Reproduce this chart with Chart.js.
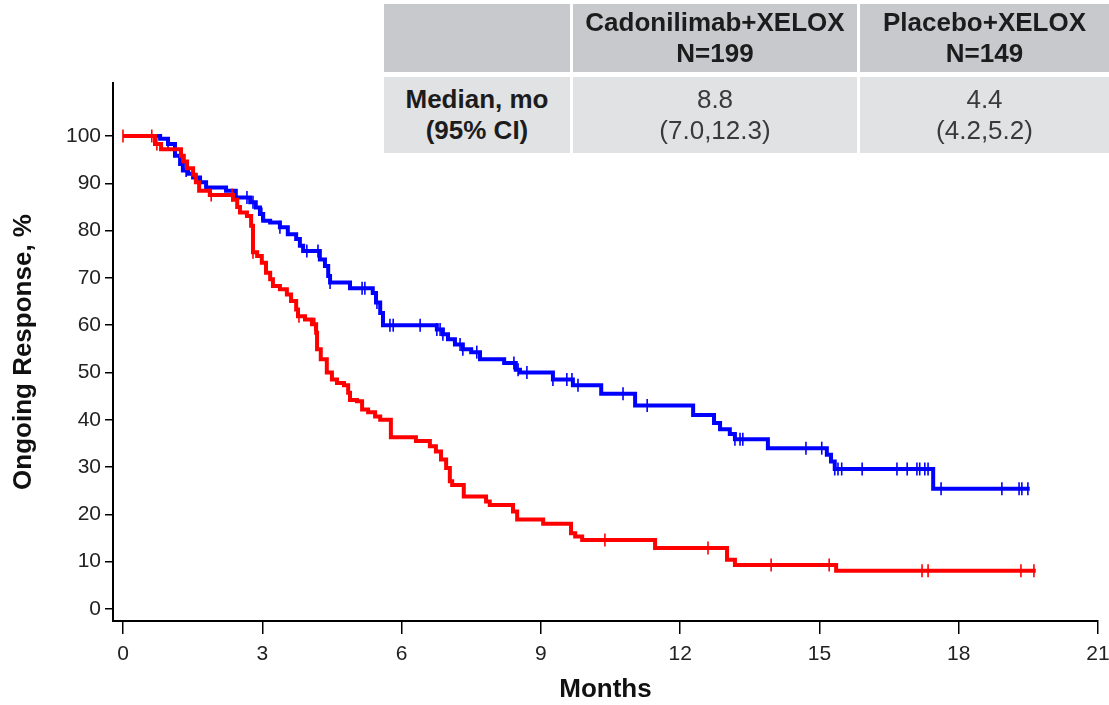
<!DOCTYPE html>
<html>
<head>
<meta charset="utf-8">
<script src="https://cdn.jsdelivr.net/npm/chart.js@4"></script>
<style>
  html, body { margin: 0; padding: 0; background: #fff; }
  #wrap { position: relative; width: 1109px; height: 705px; overflow: hidden; font-family: "Liberation Sans", Arial, sans-serif; }
  #wrap canvas { position: absolute; left: 0; top: 0; }
  .cell { position: absolute; display: flex; flex-direction: column; align-items: center; justify-content: center; font-size: 26px; line-height: 31px; text-align: center; }
  .hd { background: #c7c9cd; color: #1c1c1c; font-weight: bold; }
  .bd { background: #e1e2e4; color: #3a3a3a; }
  .bd.lbl { font-weight: bold; color: #1c1c1c; }
</style>
</head>
<body>
<div id="wrap">
  <canvas id="km" width="1109" height="705"></canvas>
  <div id="tbl"></div>
</div>
<script>
// axis ticks
const xTicks = [0, 3, 6, 9, 12, 15, 18, 21];
const yTicks = [0, 10, 20, 30, 40, 50, 60, 70, 80, 90, 100];

// Cadonilimab+XELOX: step times (months) and ongoing response (%) after each step
const cadoTimes = [0, 0.80, 0.97, 1.12, 1.23, 1.29, 1.40, 1.51, 1.66, 1.79, 2.22, 2.43, 2.74, 2.86, 2.95, 3.02, 3.17, 3.38, 3.55, 3.73, 3.81, 3.88, 4.24, 4.35, 4.42, 4.46, 4.89, 5.38, 5.45, 5.54, 5.60, 6.76, 6.89, 7.00, 7.15, 7.32, 7.50, 7.69, 8.21, 8.46, 8.55, 9.26, 9.69, 10.30, 11.03, 12.28, 12.73, 12.86, 13.07, 13.18, 13.89, 15.16, 15.25, 15.33, 17.45, 19.53];
const cadoSurv  = [100, 99.4, 98.3, 95.8, 94.1, 92.7, 92.0, 91.2, 90.2, 89.1, 88.4, 87.0, 86.0, 84.9, 83.5, 82.1, 81.7, 80.7, 79.2, 78.2, 76.8, 75.7, 73.9, 72.5, 70.4, 69.0, 67.8, 66.8, 64.8, 62.6, 60.0, 59.1, 58.1, 57.0, 55.9, 54.9, 54.3, 52.8, 52.0, 50.6, 50.0, 48.5, 47.3, 45.5, 43.0, 41.0, 39.3, 38.0, 37.0, 35.9, 34.0, 32.6, 31.2, 29.6, 25.4, 25.4];
const cadoCensor = [0.97, 1.36, 2.67, 2.80, 2.99, 3.38, 3.96, 4.20, 4.46, 5.15, 5.21, 5.47, 5.75, 5.82, 6.40, 6.76, 6.83, 6.89, 7.26, 7.32, 7.62, 8.42, 8.51, 8.70, 9.26, 9.56, 9.67, 9.80, 10.77, 11.29, 13.18, 13.29, 13.35, 14.71, 15.05, 15.33, 15.40, 15.48, 15.92, 16.67, 16.89, 17.10, 17.16, 17.27, 17.34, 17.62, 18.93, 19.30, 19.36, 19.49];

// Placebo+XELOX
const placTimes = [0, 0.69, 0.82, 1.25, 1.31, 1.38, 1.51, 1.57, 1.64, 1.87, 2.37, 2.46, 2.52, 2.67, 2.76, 2.80, 2.89, 2.99, 3.08, 3.17, 3.23, 3.38, 3.53, 3.62, 3.73, 3.77, 3.92, 4.07, 4.16, 4.18, 4.26, 4.39, 4.50, 4.61, 4.76, 4.85, 4.89, 5.04, 5.15, 5.28, 5.43, 5.54, 5.77, 6.31, 6.61, 6.74, 6.85, 6.96, 7.04, 7.09, 7.34, 7.82, 7.90, 8.40, 8.49, 9.05, 9.65, 9.74, 9.89, 11.46, 13.01, 13.18, 15.36, 19.66];
const placSurv  = [100, 98.3, 97.2, 95.8, 94.6, 93.2, 91.8, 90.2, 88.4, 87.5, 86.5, 85.0, 83.8, 83.1, 81.0, 75.4, 74.6, 73.2, 71.1, 69.7, 68.3, 67.6, 66.5, 65.1, 63.3, 61.9, 61.2, 60.2, 58.4, 54.9, 52.8, 50.0, 48.5, 47.8, 47.3, 45.7, 44.2, 43.9, 42.2, 41.6, 40.7, 40.0, 36.3, 35.5, 34.4, 33.3, 31.6, 29.8, 27.0, 26.2, 23.8, 22.7, 22.0, 20.6, 18.9, 18.0, 16.0, 15.3, 14.6, 12.9, 10.4, 9.3, 8.1, 8.1];
const placCensor = [0, 0.62, 0.73, 1.27, 1.90, 2.35, 2.80, 3.79, 4.13, 10.38, 12.60, 13.96, 15.21, 17.21, 17.34, 19.34, 19.62];

// summary table
const armNames = ["Cadonilimab+XELOX", "Placebo+XELOX"];
const armN = [199, 149];
const armMedian = ["8.8", "4.4"];
const armCI = ["(7.0,12.3)", "(4.2,5.2)"];

const blue = "#0000ff";
const red = "#ff0000";

function stepValue(times, vals, t) {
  let v = vals[0];
  for (let i = 0; i < times.length; i++) {
    if (times[i] <= t) v = vals[i];
  }
  return v;
}

const curve = (times, vals) => times.map((t, i) => ({ x: t, y: vals[i] }));
const marks = (cens, times, vals) => cens.map(t => ({ x: t, y: stepValue(times, vals, t) }));

// horizontal run first, then the drop at the event time
const lineDs = (label, data, color, order) => ({
  label, data, order,
  borderColor: color, borderWidth: 4, stepped: "before",
  borderJoinStyle: "miter", pointRadius: 0, fill: false
});
const censorDs = (label, data, color, order) => ({
  label, data, order, type: "scatter",
  showLine: false, pointStyle: "line", rotation: 90,
  pointRadius: 6.5, borderColor: color, borderWidth: 1.6
});

// table cells
const tbl = document.getElementById("tbl");
const cols = [{ left: 384, width: 186 }, { left: 573, width: 284 }, { left: 860, width: 249 }];
function addCell(cls, col, top, height, lines) {
  const d = document.createElement("div");
  d.className = "cell " + cls;
  d.style.left = cols[col].left + "px";
  d.style.width = cols[col].width + "px";
  d.style.top = top + "px";
  d.style.height = height + "px";
  lines.forEach(s => { const sp = document.createElement("div"); sp.textContent = s; d.appendChild(sp); });
  tbl.appendChild(d);
}
addCell("hd", 0, 4, 68, []);
armNames.forEach((n, i) => addCell("hd", i + 1, 4, 68, [n, "N=" + armN[i]]));
addCell("bd lbl", 0, 77, 76, ["Median, mo", "(95% CI)"]);
armMedian.forEach((m, i) => addCell("bd", i + 1, 77, 76, [m, armCI[i]]));

const font = "'Liberation Sans', Arial, sans-serif";

new Chart(document.getElementById("km"), {
  type: "line",
  data: {
    datasets: [
      censorDs("Placebo+XELOX censored", marks(placCensor, placTimes, placSurv), red, 0),
      lineDs("Placebo+XELOX", curve(placTimes, placSurv), red, 1),
      censorDs("Cadonilimab+XELOX censored", marks(cadoCensor, cadoTimes, cadoSurv), blue, 2),
      lineDs("Cadonilimab+XELOX", curve(cadoTimes, cadoSurv), blue, 3)
    ]
  },
  options: {
    responsive: false,
    animation: false,
    layout: { padding: { left: 0, right: 11, top: 83, bottom: 0 } },
    plugins: { legend: { display: false }, tooltip: { enabled: false } },
    scales: {
      x: {
        type: "linear", min: -0.215, max: 21,
        afterBuildTicks: s => { s.ticks = xTicks.map(v => ({ value: v })); },
        afterFit: s => { s.height = 84; s.paddingLeft = 0; s.paddingRight = 0; },
        grid: { drawOnChartArea: false, drawTicks: true, tickLength: 13, color: "#000", lineWidth: 1.5 },
        border: { display: true, color: "#000", width: 2 },
        ticks: { font: { family: font, size: 21 }, color: "#222", padding: 8, maxRotation: 0, autoSkip: false },
        title: { display: true, text: "Months", color: "#111", font: { family: font, size: 26, weight: "bold" }, padding: { top: 0, bottom: 0 } }
      },
      y: {
        type: "linear", min: -2.54, max: 111.2,
        afterBuildTicks: s => { s.ticks = yTicks.map(v => ({ value: v })); },
        afterFit: s => { s.width = 113; s.paddingTop = 0; s.paddingBottom = 0; },
        grid: { drawOnChartArea: false, drawTicks: true, tickLength: 8, color: "#000", lineWidth: 1.5 },
        border: { display: true, color: "#000", width: 2 },
        ticks: { font: { family: font, size: 21 }, color: "#222", padding: 4, autoSkip: false },
        title: { display: true, text: "Ongoing Response, %", color: "#111", font: { family: font, size: 26, weight: "bold" }, padding: { top: 8, bottom: 0 } }
      }
    }
  }
});
</script>
</body>
</html>
